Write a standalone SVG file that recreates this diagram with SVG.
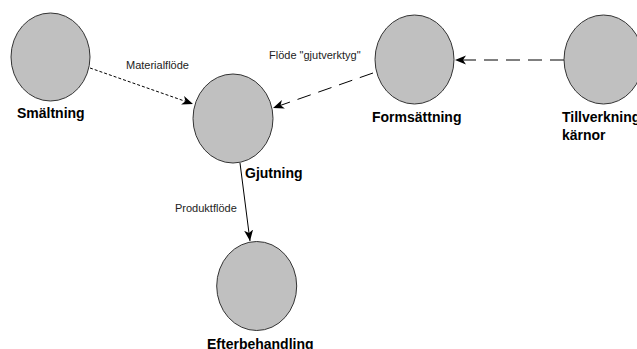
<svg xmlns="http://www.w3.org/2000/svg" width="637" height="349" viewBox="0 0 637 349">
<style>
.n{fill:#c0c0c0;stroke:#333;stroke-width:1}
.lb{font-family:"Liberation Sans",Arial,sans-serif;font-size:14px;font-weight:bold;fill:#000}
.el{font-family:"Liberation Sans",Arial,sans-serif;font-size:11px;fill:#222}
.c{fill:none;stroke:#000;stroke-width:1}
</style>
<defs>
<marker id="ah" markerWidth="12" markerHeight="10" refX="11" refY="5" orient="auto" markerUnits="userSpaceOnUse">
<path d="M11,5 L0,0.5 L3,5 L0,9.5 Z" fill="#000"/>
</marker>
</defs>
<rect width="637" height="349" fill="#fff"/>
<g id="connectors">
<path class="c" d="M90,68 L193,104" stroke-dasharray="3,2" marker-end="url(#ah)"/>
<path class="c" d="M373,73 L273,108" stroke-dasharray="14,8" marker-end="url(#ah)"/>
<path class="c" d="M564,60 L455,60" stroke-dasharray="14,8" marker-end="url(#ah)"/>
<path class="c" d="M240,163 L250,241" marker-end="url(#ah)"/>
<text class="el" x="126" y="69">Materialflöde</text>
<text class="el" x="269" y="59">Flöde "gjutverktyg"</text>
<text class="el" x="175" y="212">Produktflöde</text>
</g>
<g id="smaltning">
<ellipse class="n" cx="50.5" cy="57" rx="39.5" ry="44"/>
<text class="lb" x="17" y="118">Smältning</text>
</g>
<g id="gjutning">
<ellipse class="n" cx="233" cy="118.5" rx="40" ry="44.5"/>
<text class="lb" x="245" y="178">Gjutning</text>
</g>
<g id="formsattning">
<ellipse class="n" cx="414.5" cy="59.5" rx="39.5" ry="44.5"/>
<text class="lb" x="372" y="122">Formsättning</text>
</g>
<g id="tillverkning">
<ellipse class="n" cx="603.5" cy="59.5" rx="39.5" ry="44.5"/>
<text class="lb" x="562" y="122">Tillverkning</text>
<text class="lb" x="562" y="140">kärnor</text>
</g>
<g id="efterbehandling">
<ellipse class="n" cx="256.7" cy="286" rx="40" ry="44.5"/>
<text class="lb" x="207" y="348.5">Efterbehandling</text>
</g>
</svg>
